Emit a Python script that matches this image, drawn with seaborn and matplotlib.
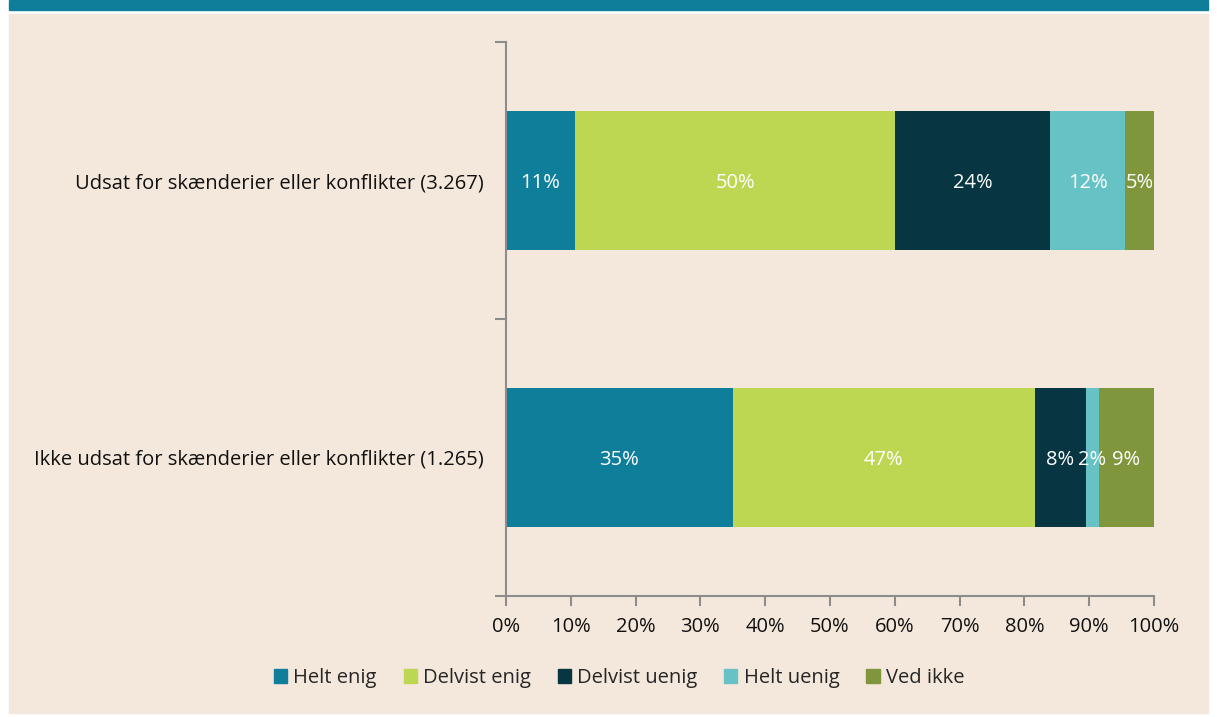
import matplotlib
matplotlib.use("Agg")
import matplotlib.pyplot as plt
import matplotlib.patches as mpatches
import seaborn as sns
import pandas as pd
import numpy as np

# Data
groups = ["Udsat for skænderier eller konflikter (3.267)",
          "Ikke udsat for skænderier eller konflikter (1.265)"]
answers = ["Helt enig", "Delvist enig", "Delvist uenig", "Helt uenig", "Ved ikke"]
udsat = [10.6, 49.5, 23.9, 11.5, 4.5]
ikke_udsat = [35.0, 46.6, 7.9, 2.0, 8.5]
colors = ["#0F7E9B", "#BDD753", "#073542", "#67C2C6", "#80963D"]
x_ticks = [0, 10, 20, 30, 40, 50, 60, 70, 80, 90, 100]

bg = "#F4E8DC"
axis_grey = "#8C8C8C"
fs = 14.5

sns.set_style("white")
plt.rcParams["font.family"] = ["Open Sans", "DejaVu Sans"]

df = pd.DataFrame({"group": np.repeat(groups, len(answers)),
                   "answer": answers * 2,
                   "pct": udsat + ikke_udsat})
df["cum"] = df.groupby("group")["pct"].cumsum()

fig = plt.figure(figsize=(12.17, 7.17), dpi=100, facecolor="white")
# teal band and beige panel (behind the axes)
fig.patches.append(mpatches.Rectangle((9 / 1217, 4 / 717), 1199 / 1217, 1 - 18 / 717,
                                      transform=fig.transFigure, color=bg, zorder=-2))
fig.patches.append(mpatches.Rectangle((9 / 1217, 1 - 10 / 717), 1199 / 1217, 10 / 717,
                                      transform=fig.transFigure, color="#0F7E9B", zorder=-2))

ax = fig.add_axes([506 / 1217, 1 - 596 / 717, 648 / 1217, 554 / 717])
ax.set_facecolor("none")

# Stacked bars: draw cumulative totals from the outermost segment inwards
for i in range(len(answers) - 1, -1, -1):
    sub = df[df["answer"] == answers[i]]
    sns.barplot(data=sub, x="cum", y="group", order=groups, color=colors[i],
                width=0.5, linewidth=0, saturation=1, ax=ax, zorder=2)

# Value labels centred in each segment
for gi, g in enumerate(groups):
    sub = df[df["group"] == g]
    for _, row in sub.iterrows():
        centre = row["cum"] - row["pct"] / 2
        ax.text(centre, gi + 0.01, f"{int(row['pct'] + 0.5)}%", ha="center", va="center",
                color="white", fontsize=fs, zorder=5)

ax.set_xlim(0, 100)
ax.set_ylim(1.5, -0.5)
ax.set_xticks(x_ticks)
ax.set_xticklabels([f"{t}%" for t in x_ticks], fontsize=fs, color="#111111")
ax.set_yticks([0, 1])
ax.set_yticklabels(groups, fontsize=fs, color="#111111")
ax.set_yticks([-0.5, 0.5, 1.5], minor=True)
ax.tick_params(axis="y", which="major", left=True, length=0, pad=16)
ax.tick_params(axis="y", which="minor", left=True, length=8, color=axis_grey,
               width=1.5, direction="out")
ax.tick_params(axis="x", which="major", bottom=True, length=7, color=axis_grey,
               width=1.5, direction="out", pad=8)
ax.set_xlabel("")
ax.set_ylabel("")
sns.despine(ax=ax)
for s in ["left", "bottom"]:
    ax.spines[s].set_color(axis_grey)
    ax.spines[s].set_linewidth(1.5)

handles = [mpatches.Patch(color=c, label=a) for a, c in zip(answers, colors)]
fig.legend(handles=handles, loc="center", bbox_to_anchor=(619 / 1217, 1 - 678 / 717),
           ncol=5, frameon=False, fontsize=fs, handlelength=0.65, handleheight=0.65,
           handletextpad=0.3, columnspacing=1.35)

fig.savefig("out.png", dpi=100, facecolor="white")
